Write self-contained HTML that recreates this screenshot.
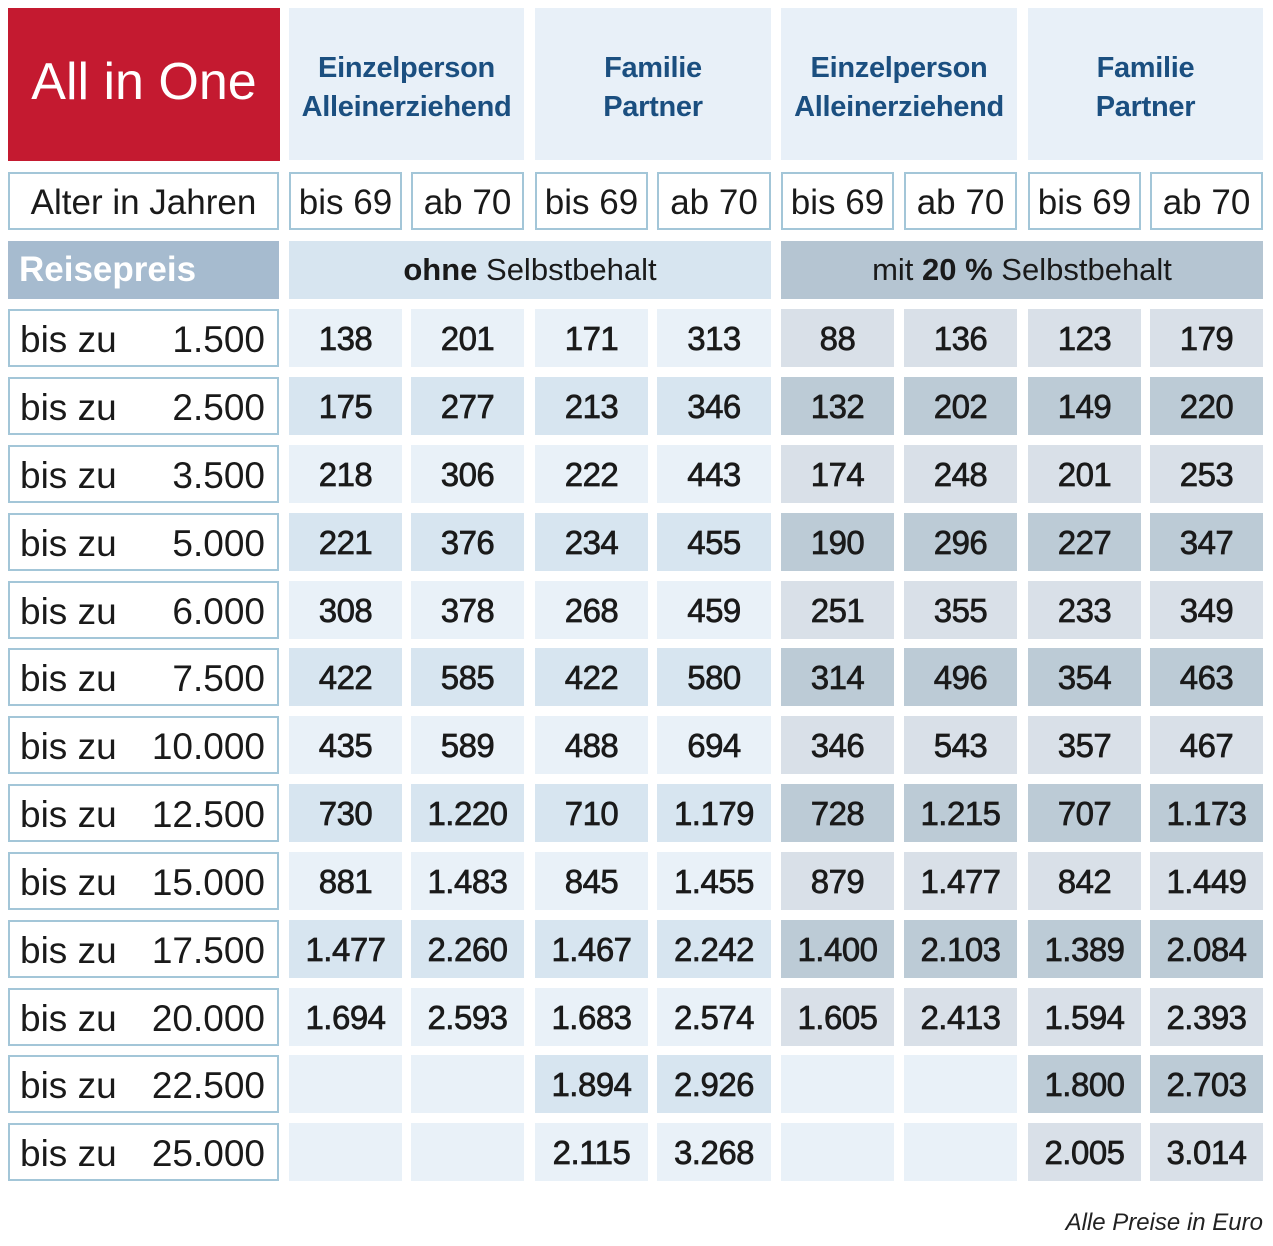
<!DOCTYPE html>
<html><head><meta charset="utf-8"><style>
body{margin:0;background:#fff;width:1273px;height:1246px;position:relative;overflow:hidden;font-family:"Liberation Sans",sans-serif}
.r{position:absolute;left:0;height:58px;width:1273px}
.r>div{position:absolute;top:0;height:58px;box-sizing:border-box;display:flex;align-items:center;justify-content:center;color:#1a1a1a}
.c0{left:8px;width:271px}.c1{left:289px;width:113px}.c2{left:411px;width:113px}.c3{left:535px;width:113px}.c4{left:657px;width:114px}
.c5{left:781px;width:113px}.c6{left:904px;width:113px}.c7{left:1028px;width:113px}.c8{left:1150px;width:113px}
.lab{border:2px solid #a3c6d8;background:#fff;font-size:37px;justify-content:space-between!important;padding:4px 12px 0 10px}
.n>div:not(.lab){font-size:33px;letter-spacing:-0.5px;-webkit-text-stroke:0.7px #1a1a1a;padding-top:2px}
.a>.o{background:#e9f1f8}.a>.m{background:#d9e0e8}
.b>.o{background:#d7e5f0}.b>.m{background:#bccbd6}
.a>.e,.b>.e{background:#e9f1f8}
.age>div{border:2px solid #a3c6d8;background:#fff;font-size:35px;padding-top:3px}
.hd{position:absolute;top:8px;height:152px;background:#e8f0f8;color:#1b4f80;font-size:29px;letter-spacing:-0.3px;font-weight:bold;text-align:center;line-height:39px;display:flex;align-items:center;justify-content:center;padding-top:8px;box-sizing:border-box}
</style></head><body>
<div style="position:absolute;left:8px;top:8px;width:272px;height:153px;background:#c41a30;color:#fff;font-size:52px;display:flex;align-items:center;justify-content:center;padding-bottom:6px;box-sizing:border-box">All in One</div>
<div class="hd" style="left:289px;width:235px">Einzelperson<br>Alleinerziehend</div>
<div class="hd" style="left:535px;width:236px">Familie<br>Partner</div>
<div class="hd" style="left:781px;width:236px">Einzelperson<br>Alleinerziehend</div>
<div class="hd" style="left:1028px;width:235px">Familie<br>Partner</div>

<div class="r age" style="top:172px"><div class="c0">Alter in Jahren</div><div class="c1">bis 69</div><div class="c2">ab 70</div><div class="c3">bis 69</div><div class="c4">ab 70</div><div class="c5">bis 69</div><div class="c6">ab 70</div><div class="c7">bis 69</div><div class="c8">ab 70</div></div>

<div class="r" style="top:241px">
<div class="c0" style="background:#a6bbcf;color:#fff;font-size:35px;font-weight:bold;justify-content:flex-start;padding-left:11px">Reisepreis</div>
<div style="left:289px;width:482px;background:#d7e5f0;font-size:31px"><b>ohne</b>&nbsp;Selbstbehalt</div>
<div style="left:781px;width:482px;background:#b5c5d2;font-size:31px">mit&nbsp;<b>20 %</b>&nbsp;Selbstbehalt</div>
</div>

<div class="r n a" style="top:309px"><div class="c0 lab"><span>bis zu</span><span>1.500</span></div><div class="c1 o">138</div><div class="c2 o">201</div><div class="c3 o">171</div><div class="c4 o">313</div><div class="c5 m">88</div><div class="c6 m">136</div><div class="c7 m">123</div><div class="c8 m">179</div></div>
<div class="r n b" style="top:377px"><div class="c0 lab"><span>bis zu</span><span>2.500</span></div><div class="c1 o">175</div><div class="c2 o">277</div><div class="c3 o">213</div><div class="c4 o">346</div><div class="c5 m">132</div><div class="c6 m">202</div><div class="c7 m">149</div><div class="c8 m">220</div></div>
<div class="r n a" style="top:445px"><div class="c0 lab"><span>bis zu</span><span>3.500</span></div><div class="c1 o">218</div><div class="c2 o">306</div><div class="c3 o">222</div><div class="c4 o">443</div><div class="c5 m">174</div><div class="c6 m">248</div><div class="c7 m">201</div><div class="c8 m">253</div></div>
<div class="r n b" style="top:513px"><div class="c0 lab"><span>bis zu</span><span>5.000</span></div><div class="c1 o">221</div><div class="c2 o">376</div><div class="c3 o">234</div><div class="c4 o">455</div><div class="c5 m">190</div><div class="c6 m">296</div><div class="c7 m">227</div><div class="c8 m">347</div></div>
<div class="r n a" style="top:581px"><div class="c0 lab"><span>bis zu</span><span>6.000</span></div><div class="c1 o">308</div><div class="c2 o">378</div><div class="c3 o">268</div><div class="c4 o">459</div><div class="c5 m">251</div><div class="c6 m">355</div><div class="c7 m">233</div><div class="c8 m">349</div></div>
<div class="r n b" style="top:648px"><div class="c0 lab"><span>bis zu</span><span>7.500</span></div><div class="c1 o">422</div><div class="c2 o">585</div><div class="c3 o">422</div><div class="c4 o">580</div><div class="c5 m">314</div><div class="c6 m">496</div><div class="c7 m">354</div><div class="c8 m">463</div></div>
<div class="r n a" style="top:716px"><div class="c0 lab"><span>bis zu</span><span>10.000</span></div><div class="c1 o">435</div><div class="c2 o">589</div><div class="c3 o">488</div><div class="c4 o">694</div><div class="c5 m">346</div><div class="c6 m">543</div><div class="c7 m">357</div><div class="c8 m">467</div></div>
<div class="r n b" style="top:784px"><div class="c0 lab"><span>bis zu</span><span>12.500</span></div><div class="c1 o">730</div><div class="c2 o">1.220</div><div class="c3 o">710</div><div class="c4 o">1.179</div><div class="c5 m">728</div><div class="c6 m">1.215</div><div class="c7 m">707</div><div class="c8 m">1.173</div></div>
<div class="r n a" style="top:852px"><div class="c0 lab"><span>bis zu</span><span>15.000</span></div><div class="c1 o">881</div><div class="c2 o">1.483</div><div class="c3 o">845</div><div class="c4 o">1.455</div><div class="c5 m">879</div><div class="c6 m">1.477</div><div class="c7 m">842</div><div class="c8 m">1.449</div></div>
<div class="r n b" style="top:920px"><div class="c0 lab"><span>bis zu</span><span>17.500</span></div><div class="c1 o">1.477</div><div class="c2 o">2.260</div><div class="c3 o">1.467</div><div class="c4 o">2.242</div><div class="c5 m">1.400</div><div class="c6 m">2.103</div><div class="c7 m">1.389</div><div class="c8 m">2.084</div></div>
<div class="r n a" style="top:988px"><div class="c0 lab"><span>bis zu</span><span>20.000</span></div><div class="c1 o">1.694</div><div class="c2 o">2.593</div><div class="c3 o">1.683</div><div class="c4 o">2.574</div><div class="c5 m">1.605</div><div class="c6 m">2.413</div><div class="c7 m">1.594</div><div class="c8 m">2.393</div></div>
<div class="r n b" style="top:1055px"><div class="c0 lab"><span>bis zu</span><span>22.500</span></div><div class="c1 e"></div><div class="c2 e"></div><div class="c3 o">1.894</div><div class="c4 o">2.926</div><div class="c5 e"></div><div class="c6 e"></div><div class="c7 m">1.800</div><div class="c8 m">2.703</div></div>
<div class="r n a" style="top:1123px"><div class="c0 lab"><span>bis zu</span><span>25.000</span></div><div class="c1 e"></div><div class="c2 e"></div><div class="c3 o">2.115</div><div class="c4 o">3.268</div><div class="c5 e"></div><div class="c6 e"></div><div class="c7 m">2.005</div><div class="c8 m">3.014</div></div>

<div style="position:absolute;right:10px;top:1209px;font-size:24px;font-style:italic;color:#222">Alle Preise in Euro</div>
</body></html>
